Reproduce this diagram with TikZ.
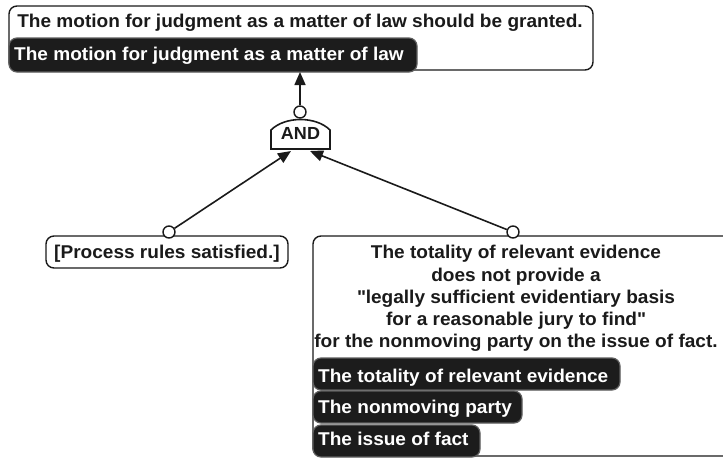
\documentclass[tikz,border=0pt]{standalone}
\usepackage{fontspec}
\setmainfont{Liberation Sans}[FakeStretch=1.03]
\usetikzlibrary{arrows.meta}
\definecolor{ink}{HTML}{1A1A1A}
\definecolor{pillfill}{HTML}{1C1C1C}
\tikzset{
  txt/.style={inner sep=0pt, font=\fontsize{18.5}{22}\selectfont\bfseries, text=ink},
  pilltxt/.style={inner sep=0pt, font=\fontsize{18.5}{22}\selectfont\bfseries, text=white},
  claimbox/.style={draw=ink, line width=1.4pt, rounded corners=8pt, fill=white, inner sep=0pt},
  pill/.style={draw=ink!70, line width=1.2pt, rounded corners=8pt, fill=pillfill, inner sep=0pt},
  port/.style={circle, draw=ink, line width=1.4pt, fill=white, inner sep=0pt, minimum size=12pt},
  link/.style={draw=ink, line width=1.6pt},
  arr/.style={link, -{Triangle[length=13pt,width=11pt]}},
}
\begin{document}
\begin{tikzpicture}[x=1pt,y=-1pt]
\useasboundingbox (0,0) rectangle (723,459);

% conclusion box with its term pill
\draw[claimbox] (9,6) rectangle (593,70);
\node[txt, anchor=base] (concl) at (300,27) {The motion for judgment as a matter of law should be granted.};
\draw[pill] (9,38) rectangle (417,72);
\node[pilltxt, anchor=base west] (conclterm) at (14,60) {The motion for judgment as a matter of law};
\coordinate (conclin) at (300,72);

% AND gate
\draw[link, fill=white] (271,149) -- (271,130) .. controls (285,116) and (316,116) .. (330,130) -- (330,149) -- cycle;
\node[txt, anchor=base, font=\fontsize{17.5}{20}\selectfont\bfseries] (gate) at (300.5,139) {AND};
\node[port] (gateout) at (300,112) {};
\coordinate (gateinl) at (291,151);
\coordinate (gateinr) at (310,151);
\draw[arr] (gateout) -- (conclin);

% left premise
\draw[claimbox] (46,236) rectangle (288,268);
\node[txt, anchor=base] (proc) at (167,258) {[Process rules satisfied.]};
\node[port] (procout) at (169,232) {};
\draw[arr] (procout) -- (gateinl);

% right premise with its term pills
\draw[claimbox] (313,236) rectangle (745,456);
\node[txt, anchor=base] (ev1) at (516,258) {The totality of relevant evidence};
\node[txt, anchor=base] (ev2) at (516,281) {does not provide a};
\node[txt, anchor=base] (ev3) at (516,303) {\textquotedbl legally sufficient evidentiary basis};
\node[txt, anchor=base] (ev4) at (516,325) {for a reasonable jury to find\textquotedbl};
\node[txt, anchor=base] (ev5) at (516,347) {for the nonmoving party on the issue of fact.};
\draw[pill] (313,358) rectangle (620,390);
\node[pilltxt, anchor=base west] (t1) at (318,382) {The totality of relevant evidence};
\draw[pill] (313,391) rectangle (522,423);
\node[pilltxt, anchor=base west] (t2) at (318,413) {The nonmoving party};
\draw[pill] (313,425) rectangle (480,457);
\node[pilltxt, anchor=base west] (t3) at (318,445) {The issue of fact};
\node[port] (evout) at (513,232) {};
\draw[arr] (evout) -- (gateinr);
\end{tikzpicture}
\end{document}
